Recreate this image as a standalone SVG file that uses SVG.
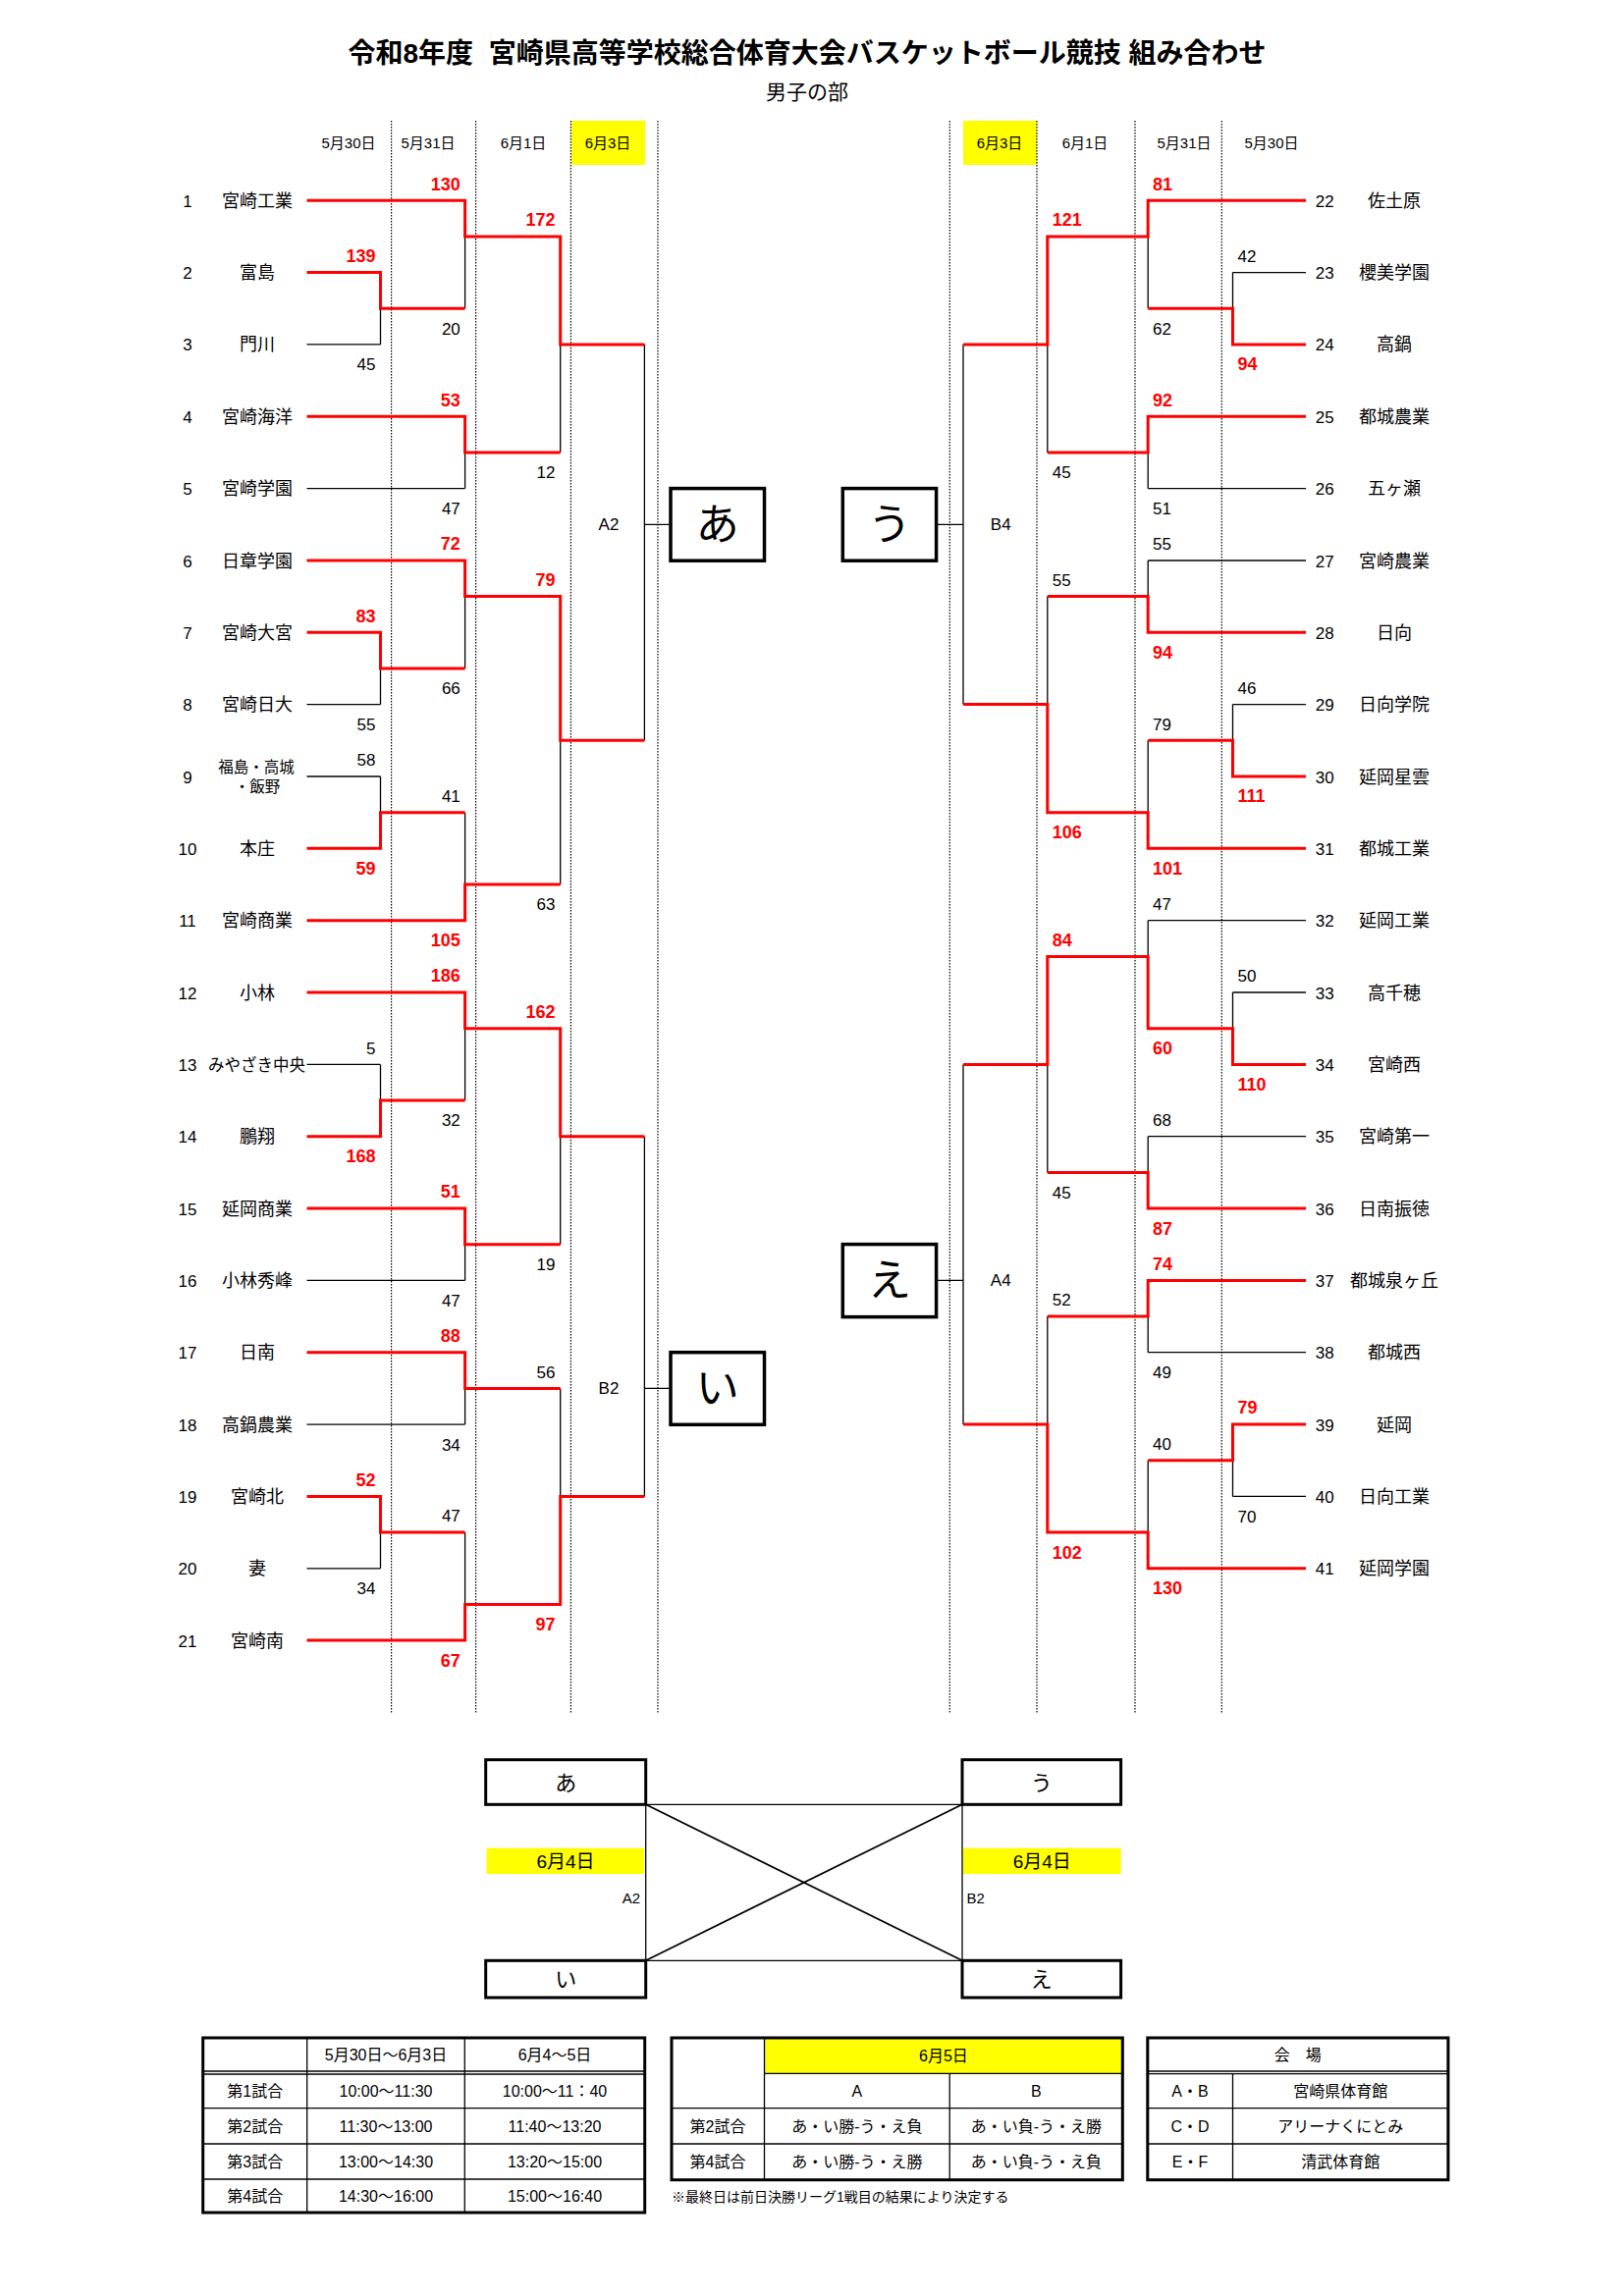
<svg xmlns="http://www.w3.org/2000/svg" width="1654" height="2339" viewBox="0 0 1654 2339">
<style>
text{font-family:"Liberation Sans","Noto Sans CJK JP",sans-serif;fill:#000}
.nm{font-size:18px;text-anchor:middle}
.no{font-size:17px;text-anchor:middle}
.hd{font-size:15px;text-anchor:middle}
.sl{font-size:17px;text-anchor:end}
.sr{font-size:17px;text-anchor:start}
.w{fill:#ff0000;font-weight:bold;font-size:18px}
.lb{font-size:17px;text-anchor:middle}
.r{fill:none;stroke:#ff0000;stroke-width:3;stroke-linejoin:miter}
.k{fill:none;stroke:#000;stroke-width:1.3}
.dot{stroke:#000;stroke-width:1.2;stroke-dasharray:1.5 1.5}
.bx{fill:#fff;stroke:#000;stroke-width:3.5}
.big{font-size:44px;text-anchor:middle}
.sbx{fill:#fff;stroke:#000;stroke-width:3}
.mid{font-size:22px;text-anchor:middle}
.yel{fill:#ffff00}
.tb{font-size:16px;text-anchor:middle}
.tbo{fill:none;stroke:#000;stroke-width:3}
.tl{stroke:#000;stroke-width:1.3}
</style>

<!-- Title -->
<g id="title">
<text x="822" y="64" style="font-size:28px;font-weight:bold;text-anchor:middle;white-space:pre" xml:space="preserve">令和8年度  宮崎県高等学校総合体育大会バスケットボール競技 組み合わせ</text>
<text x="822" y="101" style="font-size:21px;text-anchor:middle">男子の部</text>
</g>

<!-- Column headers -->
<g id="headers">
<rect class="yel" x="582" y="123" width="75" height="45"/>
<rect class="yel" x="981" y="123" width="75" height="45"/>
<text class="hd" x="355" y="151">5月30日</text>
<text class="hd" x="436" y="151">5月31日</text>
<text class="hd" x="533" y="151">6月1日</text>
<text class="hd" x="619" y="151">6月3日</text>
<text class="hd" x="1018" y="151">6月3日</text>
<text class="hd" x="1105" y="151">6月1日</text>
<text class="hd" x="1206" y="151">5月31日</text>
<text class="hd" x="1295" y="151">5月30日</text>
</g>

<!-- Dotted guides -->
<g id="guides">
<line class="dot" x1="398.6" y1="123" x2="398.6" y2="1745"/>
<line class="dot" x1="484.6" y1="123" x2="484.6" y2="1745"/>
<line class="dot" x1="581.4" y1="123" x2="581.4" y2="1745"/>
<line class="dot" x1="670" y1="123" x2="670" y2="1745"/>
<line class="dot" x1="967.3" y1="123" x2="967.3" y2="1745"/>
<line class="dot" x1="1056" y1="123" x2="1056" y2="1745"/>
<line class="dot" x1="1156" y1="123" x2="1156" y2="1745"/>
<line class="dot" x1="1244.3" y1="123" x2="1244.3" y2="1745"/>
</g>

<!-- Connectors -->
<g id="connectors">
<!-- left black -->
<path class="k" d="M312.5 350.9H387.5 M312.5 497.6H473.6 M312.5 717.6H387.5 M312.5 791H387.5 M312.5 1084.4H387.5 M312.5 1304.4H473.6 M312.5 1451.1H473.6 M312.5 1597.8H387.5"/>
<path class="k" d="M387.5 314.2V350.9 M387.5 681V717.6 M387.5 791V827.7 M387.5 1084.4V1121 M387.5 1561.1V1597.8"/>
<path class="k" d="M473.6 240.9V314.2 M473.6 460.9V497.6 M473.6 607.6V681 M473.6 827.7V901 M473.6 1047.7V1121 M473.6 1267.7V1304.4 M473.6 1414.4V1451.1 M473.6 1561.1V1634.4"/>
<path class="k" d="M570.7 350.9V460.9 M570.7 754.3V901 M570.7 1157.7V1267.7 M570.7 1414.4V1524.4"/>
<path class="k" d="M656.4 350.9V754.3 M656.4 534.3H683 M656.4 1157.7V1524.4 M656.4 1414.4H683"/>
<!-- right black -->
<path class="k" d="M1330 277.6H1255.5 M1330 497.6H1169.2 M1330 571H1169.2 M1330 717.6H1255.5 M1330 937.7H1169.2 M1330 1011H1255.5 M1330 1157.7H1169.2 M1330 1377.7H1169.2 M1330 1524.4H1255.5"/>
<path class="k" d="M1255.5 277.6V314.2 M1255.5 717.6V754.3 M1255.5 1011V1047.7 M1255.5 1487.8V1524.4"/>
<path class="k" d="M1169.2 240.9V314.2 M1169.2 460.9V497.6 M1169.2 571V607.6 M1169.2 754.3V827.7 M1169.2 937.7V974.4 M1169.2 1157.7V1194.4 M1169.2 1341.1V1377.7 M1169.2 1487.8V1561.1"/>
<path class="k" d="M1066.8 350.9V460.9 M1066.8 607.6V717.6 M1066.8 1084.4V1194.4 M1066.8 1341.1V1451.1"/>
<path class="k" d="M981 350.9V717.6 M981 534.3H953.6 M981 1084.4V1451.1 M981 1304.4H953.6"/>
<!-- left red -->
<polyline class="r" points="312.5,204.2 473.6,204.2 473.6,240.9 570.7,240.9 570.7,350.9 656.4,350.9"/>
<polyline class="r" points="312.5,277.6 387.5,277.6 387.5,314.2 473.6,314.2"/>
<polyline class="r" points="312.5,424.3 473.6,424.3 473.6,460.9 570.7,460.9"/>
<polyline class="r" points="312.5,571 473.6,571 473.6,607.6 570.7,607.6 570.7,754.3 656.4,754.3"/>
<polyline class="r" points="312.5,644.3 387.5,644.3 387.5,681 473.6,681"/>
<polyline class="r" points="312.5,864.3 387.5,864.3 387.5,827.7 473.6,827.7"/>
<polyline class="r" points="312.5,937.7 473.6,937.7 473.6,901 570.7,901"/>
<polyline class="r" points="312.5,1011 473.6,1011 473.6,1047.7 570.7,1047.7 570.7,1157.7 656.4,1157.7"/>
<polyline class="r" points="312.5,1157.7 387.5,1157.7 387.5,1121 473.6,1121"/>
<polyline class="r" points="312.5,1231.1 473.6,1231.1 473.6,1267.7 570.7,1267.7"/>
<polyline class="r" points="312.5,1377.7 473.6,1377.7 473.6,1414.4 570.7,1414.4"/>
<polyline class="r" points="312.5,1524.4 387.5,1524.4 387.5,1561.1 473.6,1561.1"/>
<polyline class="r" points="312.5,1671.1 473.6,1671.1 473.6,1634.4 570.7,1634.4 570.7,1524.4 656.4,1524.4"/>
<!-- right red -->
<polyline class="r" points="1330,204.2 1169.2,204.2 1169.2,240.9 1066.8,240.9 1066.8,350.9 981,350.9"/>
<polyline class="r" points="1330,350.9 1255.5,350.9 1255.5,314.2 1169.2,314.2"/>
<polyline class="r" points="1330,424.3 1169.2,424.3 1169.2,460.9 1066.8,460.9"/>
<polyline class="r" points="1330,644.3 1169.2,644.3 1169.2,607.6 1066.8,607.6"/>
<polyline class="r" points="1330,791 1255.5,791 1255.5,754.3 1169.2,754.3"/>
<polyline class="r" points="1330,864.3 1169.2,864.3 1169.2,827.7 1066.8,827.7 1066.8,717.6 981,717.6"/>
<polyline class="r" points="1330,1084.4 1255.5,1084.4 1255.5,1047.7 1169.2,1047.7 1169.2,974.4 1066.8,974.4 1066.8,1084.4 981,1084.4"/>
<polyline class="r" points="1330,1231.1 1169.2,1231.1 1169.2,1194.4 1066.8,1194.4"/>
<polyline class="r" points="1330,1304.4 1169.2,1304.4 1169.2,1341.1 1066.8,1341.1"/>
<polyline class="r" points="1330,1451.1 1255.5,1451.1 1255.5,1487.8 1169.2,1487.8"/>
<polyline class="r" points="1330,1597.8 1169.2,1597.8 1169.2,1561.1 1066.8,1561.1 1066.8,1451.1 981,1451.1"/>
</g>

<!-- Scores -->
<g id="scores-left">
<text class="sl w" x="382.5" y="266.9">139</text><text class="sl" x="382.5" y="377.3">45</text>
<text class="sl w" x="382.5" y="633.6">83</text><text class="sl" x="382.5" y="744">55</text>
<text class="sl" x="382.5" y="780.3">58</text><text class="sl w" x="382.5" y="890.7">59</text>
<text class="sl" x="382.5" y="1073.7">5</text><text class="sl w" x="382.5" y="1184.1">168</text>
<text class="sl w" x="382.5" y="1513.7">52</text><text class="sl" x="382.5" y="1624.2">34</text>
<text class="sl w" x="468.8" y="193.5">130</text><text class="sl" x="468.8" y="340.6">20</text>
<text class="sl w" x="468.8" y="413.6">53</text><text class="sl" x="468.8" y="524">47</text>
<text class="sl w" x="468.8" y="560.3">72</text><text class="sl" x="468.8" y="707.4">66</text>
<text class="sl" x="468.8" y="817">41</text><text class="sl w" x="468.8" y="964.1">105</text>
<text class="sl w" x="468.8" y="1000.3">186</text><text class="sl" x="468.8" y="1147.4">32</text>
<text class="sl w" x="468.8" y="1220.4">51</text><text class="sl" x="468.8" y="1330.8">47</text>
<text class="sl w" x="468.8" y="1367">88</text><text class="sl" x="468.8" y="1477.5">34</text>
<text class="sl" x="468.8" y="1550.4">47</text><text class="sl w" x="468.8" y="1697.5">67</text>
<text class="sl w" x="565.5" y="230.2">172</text><text class="sl" x="565.5" y="487.3">12</text>
<text class="sl w" x="565.5" y="596.9">79</text><text class="sl" x="565.5" y="927.4">63</text>
<text class="sl w" x="565.5" y="1037">162</text><text class="sl" x="565.5" y="1294.1">19</text>
<text class="sl" x="565.5" y="1403.7">56</text><text class="sl w" x="565.5" y="1660.8">97</text>
<text class="lb" x="620" y="540.3">A2</text>
<text class="lb" x="620" y="1420.4">B2</text>
</g>
<g id="scores-right">
<text class="sr" x="1260.5" y="266.9">42</text><text class="sr w" x="1260.5" y="377.3">94</text>
<text class="sr" x="1260.5" y="706.9">46</text><text class="sr w" x="1260.5" y="817.4">111</text>
<text class="sr" x="1260.5" y="1000.3">50</text><text class="sr w" x="1260.5" y="1110.8">110</text>
<text class="sr w" x="1260.5" y="1440.4">79</text><text class="sr" x="1260.5" y="1550.8">70</text>
<text class="sr w" x="1174" y="193.5">81</text><text class="sr" x="1174" y="340.6">62</text>
<text class="sr w" x="1174" y="413.6">92</text><text class="sr" x="1174" y="524">51</text>
<text class="sr" x="1174" y="560.3">55</text><text class="sr w" x="1174" y="670.7">94</text>
<text class="sr" x="1174" y="743.6">79</text><text class="sr w" x="1174" y="890.7">101</text>
<text class="sr" x="1174" y="927">47</text><text class="sr w" x="1174" y="1074.1">60</text>
<text class="sr" x="1174" y="1147">68</text><text class="sr w" x="1174" y="1257.5">87</text>
<text class="sr w" x="1174" y="1293.7">74</text><text class="sr" x="1174" y="1404.1">49</text>
<text class="sr" x="1174" y="1477.1">40</text><text class="sr w" x="1174" y="1624.2">130</text>
<text class="sr w" x="1071.8" y="230.2">121</text><text class="sr" x="1071.8" y="487.3">45</text>
<text class="sr" x="1071.8" y="596.9">55</text><text class="sr w" x="1071.8" y="854.1">106</text>
<text class="sr w" x="1071.8" y="963.7">84</text><text class="sr" x="1071.8" y="1220.8">45</text>
<text class="sr" x="1071.8" y="1330.4">52</text><text class="sr w" x="1071.8" y="1587.5">102</text>
<text class="lb" x="1019.2" y="540.3">B4</text>
<text class="lb" x="1019.2" y="1310.4">A4</text>
</g>

<!-- Group boxes -->
<g id="box-a"><rect class="bx" x="683" y="497.6" width="95.5" height="73.6"/><text class="big" x="730.7" y="550">あ</text></g>
<g id="box-i"><rect class="bx" x="683" y="1377.7" width="95.5" height="73.6"/><text class="big" x="730.7" y="1430">い</text></g>
<g id="box-u"><rect class="bx" x="858.3" y="497.6" width="95.3" height="73.6"/><text class="big" x="906" y="550">う</text></g>
<g id="box-e"><rect class="bx" x="858.3" y="1267.6" width="95.3" height="74"/><text class="big" x="906" y="1320">え</text></g>

<!-- Teams left -->
<g id="team-1"><text class="no" x="191" y="210.7">1</text><text class="nm" x="262" y="210.7">宮崎工業</text></g>
<g id="team-2"><text class="no" x="191" y="284.1">2</text><text class="nm" x="262" y="284.1">富島</text></g>
<g id="team-3"><text class="no" x="191" y="357.4">3</text><text class="nm" x="262" y="357.4">門川</text></g>
<g id="team-4"><text class="no" x="191" y="430.8">4</text><text class="nm" x="262" y="430.8">宮崎海洋</text></g>
<g id="team-5"><text class="no" x="191" y="504.1">5</text><text class="nm" x="262" y="504.1">宮崎学園</text></g>
<g id="team-6"><text class="no" x="191" y="577.5">6</text><text class="nm" x="262" y="577.5">日章学園</text></g>
<g id="team-7"><text class="no" x="191" y="650.8">7</text><text class="nm" x="262" y="650.8">宮崎大宮</text></g>
<g id="team-8"><text class="no" x="191" y="724.1">8</text><text class="nm" x="262" y="724.1">宮崎日大</text></g>
<g id="team-9"><text class="no" x="191" y="797.5">9</text><text class="nm" x="261" y="787" style="font-size:15.5px">福島・高城</text><text class="nm" x="262" y="806.8" style="font-size:15.5px">・飯野</text></g>
<g id="team-10"><text class="no" x="191" y="870.8">10</text><text class="nm" x="262" y="870.8">本庄</text></g>
<g id="team-11"><text class="no" x="191" y="944.2">11</text><text class="nm" x="262" y="944.2">宮崎商業</text></g>
<g id="team-12"><text class="no" x="191" y="1017.5">12</text><text class="nm" x="262" y="1017.5">小林</text></g>
<g id="team-13"><text class="no" x="191" y="1090.9">13</text><text class="nm" x="261.5" y="1090.9" style="font-size:16.5px">みやざき中央</text></g>
<g id="team-14"><text class="no" x="191" y="1164.2">14</text><text class="nm" x="262" y="1164.2">鵬翔</text></g>
<g id="team-15"><text class="no" x="191" y="1237.6">15</text><text class="nm" x="262" y="1237.6">延岡商業</text></g>
<g id="team-16"><text class="no" x="191" y="1310.9">16</text><text class="nm" x="262" y="1310.9">小林秀峰</text></g>
<g id="team-17"><text class="no" x="191" y="1384.2">17</text><text class="nm" x="262" y="1384.2">日南</text></g>
<g id="team-18"><text class="no" x="191" y="1457.6">18</text><text class="nm" x="262" y="1457.6">高鍋農業</text></g>
<g id="team-19"><text class="no" x="191" y="1530.9">19</text><text class="nm" x="262" y="1530.9">宮崎北</text></g>
<g id="team-20"><text class="no" x="191" y="1604.3">20</text><text class="nm" x="262" y="1604.3">妻</text></g>
<g id="team-21"><text class="no" x="191" y="1677.6">21</text><text class="nm" x="262" y="1677.6">宮崎南</text></g>

<!-- Teams right -->
<g id="team-22"><text class="no" x="1349.2" y="210.7">22</text><text class="nm" x="1420" y="210.7">佐土原</text></g>
<g id="team-23"><text class="no" x="1349.2" y="284.1">23</text><text class="nm" x="1420" y="284.1">櫻美学園</text></g>
<g id="team-24"><text class="no" x="1349.2" y="357.4">24</text><text class="nm" x="1420" y="357.4">高鍋</text></g>
<g id="team-25"><text class="no" x="1349.2" y="430.8">25</text><text class="nm" x="1420" y="430.8">都城農業</text></g>
<g id="team-26"><text class="no" x="1349.2" y="504.1">26</text><text class="nm" x="1420" y="504.1">五ヶ瀬</text></g>
<g id="team-27"><text class="no" x="1349.2" y="577.5">27</text><text class="nm" x="1420" y="577.5">宮崎農業</text></g>
<g id="team-28"><text class="no" x="1349.2" y="650.8">28</text><text class="nm" x="1420" y="650.8">日向</text></g>
<g id="team-29"><text class="no" x="1349.2" y="724.1">29</text><text class="nm" x="1420" y="724.1">日向学院</text></g>
<g id="team-30"><text class="no" x="1349.2" y="797.5">30</text><text class="nm" x="1420" y="797.5">延岡星雲</text></g>
<g id="team-31"><text class="no" x="1349.2" y="870.8">31</text><text class="nm" x="1420" y="870.8">都城工業</text></g>
<g id="team-32"><text class="no" x="1349.2" y="944.2">32</text><text class="nm" x="1420" y="944.2">延岡工業</text></g>
<g id="team-33"><text class="no" x="1349.2" y="1017.5">33</text><text class="nm" x="1420" y="1017.5">高千穂</text></g>
<g id="team-34"><text class="no" x="1349.2" y="1090.9">34</text><text class="nm" x="1420" y="1090.9">宮崎西</text></g>
<g id="team-35"><text class="no" x="1349.2" y="1164.2">35</text><text class="nm" x="1420" y="1164.2">宮崎第一</text></g>
<g id="team-36"><text class="no" x="1349.2" y="1237.6">36</text><text class="nm" x="1420" y="1237.6">日南振徳</text></g>
<g id="team-37"><text class="no" x="1349.2" y="1310.9">37</text><text class="nm" x="1420" y="1310.9">都城泉ヶ丘</text></g>
<g id="team-38"><text class="no" x="1349.2" y="1384.2">38</text><text class="nm" x="1420" y="1384.2">都城西</text></g>
<g id="team-39"><text class="no" x="1349.2" y="1457.6">39</text><text class="nm" x="1420" y="1457.6">延岡</text></g>
<g id="team-40"><text class="no" x="1349.2" y="1530.9">40</text><text class="nm" x="1420" y="1530.9">日向工業</text></g>
<g id="team-41"><text class="no" x="1349.2" y="1604.3">41</text><text class="nm" x="1420" y="1604.3">延岡学園</text></g>

<!-- Final league -->
<g id="league-connectors">
<path class="k" d="M657.7 1838.3H980 M657.7 1997.3H980 M657.7 1838.3V1997.3 M980 1838.3V1997.3"/>
<path fill="none" stroke="#000" stroke-width="1.8" d="M657.7 1838.3L980 1997.3 M657.7 1997.3L980 1838.3"/>
</g>
<g id="league-dates">
<rect class="yel" x="495.6" y="1882.7" width="160.4" height="26.3"/>
<rect class="yel" x="981" y="1882.7" width="160.6" height="26.3"/>
<text x="576" y="1903" style="font-size:19px;text-anchor:middle">6月4日</text>
<text x="1061.3" y="1903" style="font-size:19px;text-anchor:middle">6月4日</text>
<text x="652" y="1938.5" style="font-size:15px;text-anchor:end">A2</text>
<text x="984.5" y="1938.5" style="font-size:15px">B2</text>
</g>
<g id="league-a"><rect class="sbx" x="494.7" y="1792.7" width="163" height="45.6"/><text class="mid" x="576.2" y="1824">あ</text></g>
<g id="league-u"><rect class="sbx" x="980" y="1792.7" width="161.6" height="45.6"/><text class="mid" x="1060.8" y="1824">う</text></g>
<g id="league-i"><rect class="sbx" x="494.7" y="1997.3" width="163" height="37.7"/><text class="mid" x="576.2" y="2024">い</text></g>
<g id="league-e"><rect class="sbx" x="980" y="1997.3" width="161.6" height="37.7"/><text class="mid" x="1060.8" y="2024">え</text></g>

<!-- Table 1: times -->
<g id="table-times">
<rect class="tbo" x="206.7" y="2076" width="450" height="178"/>
<line class="tl" x1="312.7" y1="2076" x2="312.7" y2="2254"/>
<line class="tl" x1="473.3" y1="2076" x2="473.3" y2="2254"/>
<line class="tl" x1="206.7" y1="2110" x2="656.7" y2="2110"/>
<line class="tl" x1="206.7" y1="2113" x2="656.7" y2="2113"/>
<line class="tl" x1="206.7" y1="2147.7" x2="656.7" y2="2147.7"/>
<line class="tl" x1="206.7" y1="2184" x2="656.7" y2="2184"/>
<line class="tl" x1="206.7" y1="2220" x2="656.7" y2="2220"/>
<text class="tb" x="393" y="2099">5月30日～6月3日</text>
<text class="tb" x="565" y="2099">6月4～5日</text>
<text class="tb" x="259.7" y="2136">第1試合</text>
<text class="tb" x="393" y="2136">10:00～11:30</text>
<text class="tb" x="565" y="2136">10:00～11：40</text>
<text class="tb" x="259.7" y="2172">第2試合</text>
<text class="tb" x="393" y="2172">11:30～13:00</text>
<text class="tb" x="565" y="2172">11:40～13:20</text>
<text class="tb" x="259.7" y="2208">第3試合</text>
<text class="tb" x="393" y="2208">13:00～14:30</text>
<text class="tb" x="565" y="2208">13:20～15:00</text>
<text class="tb" x="259.7" y="2243">第4試合</text>
<text class="tb" x="393" y="2243">14:30～16:00</text>
<text class="tb" x="565" y="2243">15:00～16:40</text>
</g>

<!-- Table 2: final day -->
<g id="table-final">
<rect class="yel" x="778.5" y="2076" width="364.8" height="36.3"/>
<rect class="tbo" x="684" y="2076" width="459.3" height="144.7"/>
<line class="tl" x1="778.5" y1="2076" x2="778.5" y2="2220.7"/>
<line class="tl" x1="967.2" y1="2112.3" x2="967.2" y2="2220.7"/>
<line class="tl" x1="778.5" y1="2112.3" x2="1143.3" y2="2112.3"/>
<line class="tl" x1="684" y1="2147.7" x2="1143.3" y2="2147.7"/>
<line class="tl" x1="684" y1="2184" x2="1143.3" y2="2184"/>
<text class="tb" x="960.9" y="2100">6月5日</text>
<text class="tb" x="872.9" y="2136">A</text>
<text class="tb" x="1055.3" y="2136">B</text>
<text class="tb" x="731" y="2172">第2試合</text>
<text class="tb" x="872.9" y="2172">あ・い勝-う・え負</text>
<text class="tb" x="1055.3" y="2172">あ・い負-う・え勝</text>
<text class="tb" x="731" y="2208">第4試合</text>
<text class="tb" x="872.9" y="2208">あ・い勝-う・え勝</text>
<text class="tb" x="1055.3" y="2208">あ・い負-う・え負</text>
<text x="684" y="2243" style="font-size:14px">※最終日は前日決勝リーグ1戦目の結果により決定する</text>
</g>

<!-- Table 3: venues -->
<g id="table-venues">
<rect class="tbo" x="1168.8" y="2076" width="306.1" height="144.7"/>
<line class="tl" x1="1168.8" y1="2110" x2="1474.9" y2="2110"/>
<line class="tl" x1="1168.8" y1="2112.7" x2="1474.9" y2="2112.7"/>
<line class="tl" x1="1255.5" y1="2112.7" x2="1255.5" y2="2220.7"/>
<line class="tl" x1="1168.8" y1="2147.7" x2="1474.9" y2="2147.7"/>
<line class="tl" x1="1168.8" y1="2184" x2="1474.9" y2="2184"/>
<text class="tb" x="1321.8" y="2099">会　場</text>
<text class="tb" x="1212" y="2136">A・B</text>
<text class="tb" x="1365.2" y="2136">宮崎県体育館</text>
<text class="tb" x="1212" y="2172">C・D</text>
<text class="tb" x="1365.2" y="2172">アリーナくにとみ</text>
<text class="tb" x="1212" y="2208">E・F</text>
<text class="tb" x="1365.2" y="2208">清武体育館</text>
</g>
</svg>
